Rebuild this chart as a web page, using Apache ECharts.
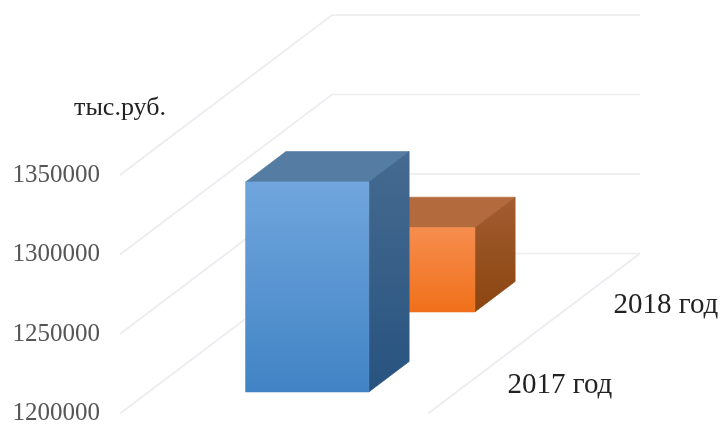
<!DOCTYPE html>
<html>
<head>
<meta charset="utf-8">
<script src="https://cdn.jsdelivr.net/npm/echarts@6/dist/echarts.min.js"></script>
<style>
    html, body {margin: 0; padding: 0; background: #fff;}
    /* the reference is a soft, upscaled picture */
    #chart {width: 721px; height: 426px; filter: blur(0.5px);}
</style>
</head>
<body>
<div id="chart"></div>
<script>
const depthCategories = ['2017 год', '2018 год'];
const seriesValues = [1332000, 1253000];
const yTicks = [1200000, 1250000, 1300000, 1350000];
const unitLabel = 'тыс.руб.';

// one screen vector for the whole depth of the floor
const depthVec = [212, -160];
const barWidth = 0.4;
const barDepth = 0.19;
const barLeft = 0.315;
const barNudge = -0.02;
const serif = '"Liberation Serif", "Times New Roman", serif';

const barColors = [
    {front: ['#70a6dd', '#4183c5'], top: '#557da4', side: ['#466a90', '#27537f']},
    {front: ['#f68d4e', '#f0701a'], top: '#b36a3d', side: ['#a25c30', '#8a4510']}
];

const vGrad = (from, to) => new echarts.graphic.LinearGradient(0, 0, 0, 1, [
    {offset: 0, color: from},
    {offset: 1, color: to}
]);

const project = (api, x, depth, value) => {
    const p = api.coord([x, value]);
    return [p[0] + depthVec[0] * depth, p[1] + depthVec[1] * depth];
};

// same-colour stroke closes the antialiased seams between faces
const face = (points, fill) => ({
    type: 'polygon',
    shape: {points},
    style: {fill, stroke: fill, lineWidth: 0.7}
});

// wall and floor lines
const renderWall = (params, api) => {
    const value = api.value(0);
    return {
        type: 'polyline',
        shape: {
            points: [
                project(api, 0, 0, value),
                project(api, 0, 1, value),
                project(api, 1, 1, value)
            ]
        },
        style: {fill: null, stroke: '#ebecf0', lineWidth: 1.6}
    };
};

const renderFloorEdge = (params, api) => {
    const a = project(api, 1, 0, yTicks[0]);
    const b = project(api, 1, 1, yTicks[0]);
    return {
        type: 'line',
        shape: {x1: a[0], y1: a[1], x2: b[0], y2: b[1]},
        style: {stroke: '#ebecf0', lineWidth: 1.6}
    };
};

const renderBar = (params, api) => {
    const idx = api.value(0);
    const value = api.value(1);
    const c = barColors[idx];
    const base = yTicks[0];
    const x0 = barLeft;
    const x1 = x0 + barWidth;
    const d0 = (idx + 0.5) / depthCategories.length - barDepth / 2 + barNudge;
    const d1 = d0 + barDepth;
    return {
        type: 'group',
        children: [
            face([
                project(api, x0, d0, value), project(api, x1, d0, value),
                project(api, x1, d1, value), project(api, x0, d1, value)
            ], c.top),
            face([
                project(api, x1, d0, value), project(api, x1, d1, value),
                project(api, x1, d1, base), project(api, x1, d0, base)
            ], vGrad(c.side[0], c.side[1])),
            face([
                project(api, x0, d0, value), project(api, x1, d0, value),
                project(api, x1, d0, base), project(api, x0, d0, base)
            ], vGrad(c.front[0], c.front[1]))
        ]
    };
};

const renderDepthLabel = (params, api) => {
    const idx = api.value(0);
    const p = project(api, 1, (idx + 0.5) / depthCategories.length, yTicks[0]);
    return {
        type: 'text',
        x: p[0] + 26.5,
        y: p[1] + 12,
        style: {
            text: depthCategories[idx],
            font: '29px ' + serif,
            fill: '#222',
            textAlign: 'left',
            textVerticalAlign: 'middle'
        }
    };
};

const option = {
    animation: false,
    backgroundColor: '#fff',
    grid: {left: 120, width: 308, top: 175, height: 242},
    xAxis: {type: 'value', min: 0, max: 1, show: false},
    yAxis: {
        type: 'value',
        min: yTicks[0],
        max: yTicks[yTicks.length - 1],
        interval: 50000,
        name: unitLabel,
        nameLocation: 'end',
        nameGap: 54,
        nameTextStyle: {fontFamily: serif, fontSize: 26, color: '#222', align: 'center'},
        axisLine: {show: false},
        axisTick: {show: false},
        splitLine: {show: false},
        axisLabel: {
            fontFamily: serif,
            fontSize: 25,
            color: '#555',
            margin: 20,
            padding: [6, 0, 0, 0],
            verticalAlignMinLabel: 'middle',
            verticalAlignMaxLabel: 'middle',
            formatter: v => String(v)
        }
    },
    series: [
        {type: 'custom', coordinateSystem: 'cartesian2d', clip: false, z: 1,
            renderItem: renderWall, data: yTicks.map(v => [v]), encode: {y: 0}},
        {type: 'custom', coordinateSystem: 'cartesian2d', clip: false, z: 1,
            renderItem: renderFloorEdge, data: [[0]]},
        // back bar goes first so the front one covers it
        {type: 'custom', coordinateSystem: 'cartesian2d', clip: false, z: 2,
            renderItem: renderBar, data: [[1, seriesValues[1]]], encode: {y: 1}},
        {type: 'custom', coordinateSystem: 'cartesian2d', clip: false, z: 3,
            renderItem: renderBar, data: [[0, seriesValues[0]]], encode: {y: 1}},
        {type: 'custom', coordinateSystem: 'cartesian2d', clip: false, z: 4,
            renderItem: renderDepthLabel, data: depthCategories.map((c, i) => [i])}
    ]
};

const chart = echarts.init(document.getElementById('chart'));
chart.setOption(option);
</script>
</body>
</html>
